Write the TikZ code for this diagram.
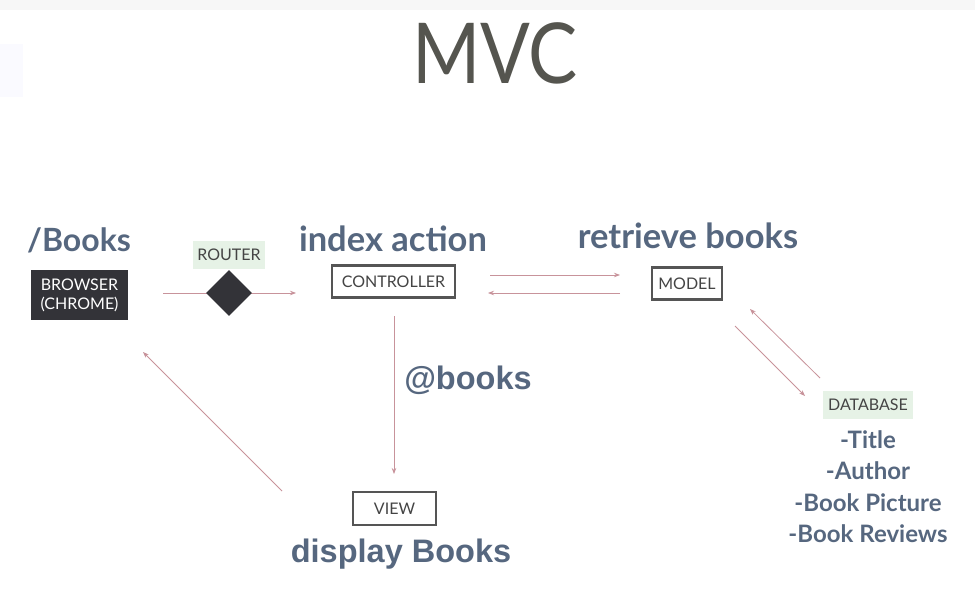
\documentclass[tikz,border=0pt]{standalone}
\usepackage{fontspec}
\newfontfamily\lato{Lato}
\newfontfamily\arial{Liberation Sans}
\usetikzlibrary{arrows.meta,shapes.geometric}
\definecolor{txtblue}{HTML}{56677F}
\definecolor{arrowpink}{HTML}{C8939B}
\definecolor{boxgrey}{HTML}{555555}
\definecolor{labtext}{HTML}{444444}
\definecolor{darkfill}{HTML}{333338}
\definecolor{labgreen}{HTML}{E6F2E6}
\definecolor{titlegrey}{HTML}{55554F}
\tikzset{
  heading/.style={font=\lato\bfseries\fontsize{34.5}{36}\selectfont, text=txtblue, inner sep=0pt},
  urlhead/.style={font=\lato\bfseries\fontsize{32}{34}\selectfont, text=txtblue, inner sep=0pt},
  arialhead/.style={font=\arial\bfseries\fontsize{32.5}{34}\selectfont, text=txtblue, inner sep=0pt},
  listitem/.style={font=\lato\bfseries\fontsize{24}{26}\selectfont, text=txtblue, inner sep=0pt},
  smallcap/.style={font=\lato\fontsize{16}{17}\selectfont, text=labtext},
  boxed/.style={smallcap, draw=boxgrey, line width=2.6pt, fill=white, minimum height=32pt, inner xsep=9pt},
  greenlab/.style={smallcap, fill=labgreen, minimum height=28pt, inner xsep=4pt},
  conn/.style={draw=arrowpink, line width=0.8pt, -{Stealth[length=6pt,width=4.5pt]}},
  routerdia/.style={diamond, fill=darkfill, minimum width=46pt, minimum height=46pt, inner sep=0pt},
}
\begin{document}
\begin{tikzpicture}[x=1pt,y=-1pt]
\useasboundingbox (0,0) rectangle (975,596);
\fill[white] (0,0) rectangle (975,596);
\fill[black!3] (0,0) rectangle (975,10);
\fill[blue!2] (0,44) rectangle (23,97);
% title
\node[font=\lato\fontsize{80}{80}\selectfont, text=titlegrey, inner sep=0pt, xscale=0.92, yscale=1.05] (title) at (495,53) {MVC};
% browser
\node[fill=darkfill, text=white, font=\lato\fontsize{16}{19}\selectfont, align=center, minimum width=97pt, minimum height=50pt, inner sep=0pt] (browser) at (79.5,295) {BROWSER\\(CHROME)};
\node[urlhead, anchor=base] (booksurl) at (79,252) {/Books};
% router
\node[greenlab] (routerlab) at (229,255) {ROUTER};
\coordinate (bstart) at (163,293);
\coordinate (bend) at (296,293);
\draw[conn] (bstart) -- (bend);
\node[routerdia] (router) at (229,293) {};
% controller
\node[boxed, minimum width=123pt] (controller) at (393.5,281.5) {CONTROLLER};
\node[heading, anchor=base] (indexaction) at (393,252) {index action};
% model
\node[boxed, minimum width=70pt, inner xsep=5pt] (model) at (687,283.5) {MODEL};
\node[heading, anchor=base] (retrieve) at (688,249) {retrieve books};
\coordinate (c2mA) at (490,275);
\coordinate (c2mB) at (620,275);
\coordinate (m2cA) at (620,293);
\coordinate (m2cB) at (488,293);
\draw[conn] (c2mA) -- (c2mB);
\draw[conn] (m2cA) -- (m2cB);
% database
\node[greenlab, minimum width=90pt] (dblab) at (868,405) {DATABASE};
\node[listitem, anchor=base] (l1) at (868,448) {-Title};
\node[listitem, anchor=base] (l2) at (868,479) {-Author};
\node[listitem, anchor=base] (l3) at (868,511) {-Book Picture};
\node[listitem, anchor=base] (l4) at (868,542) {-Book Reviews};
\coordinate (db1s) at (820,378);
\coordinate (db1e) at (750,309);
\coordinate (db2s) at (735,326);
\coordinate (db2e) at (805,396);
\draw[conn] (db1s) -- (db1e);
\draw[conn] (db2s) -- (db2e);
% view
\node[boxed, minimum width=83pt, minimum height=33pt] (view) at (394.5,508.5) {VIEW};
\node[arialhead, anchor=base] (display) at (401,562) {display Books};
\coordinate (cv1) at (394,316);
\coordinate (cv2) at (394,474);
\draw[conn] (cv1) -- (cv2);
\node[arialhead, anchor=base] (atbooks) at (468,389) {@books};
% view to browser
\coordinate (vb1) at (282,491);
\coordinate (vb2) at (143,352);
\draw[conn] (vb1) -- (vb2);
\end{tikzpicture}
\end{document}
